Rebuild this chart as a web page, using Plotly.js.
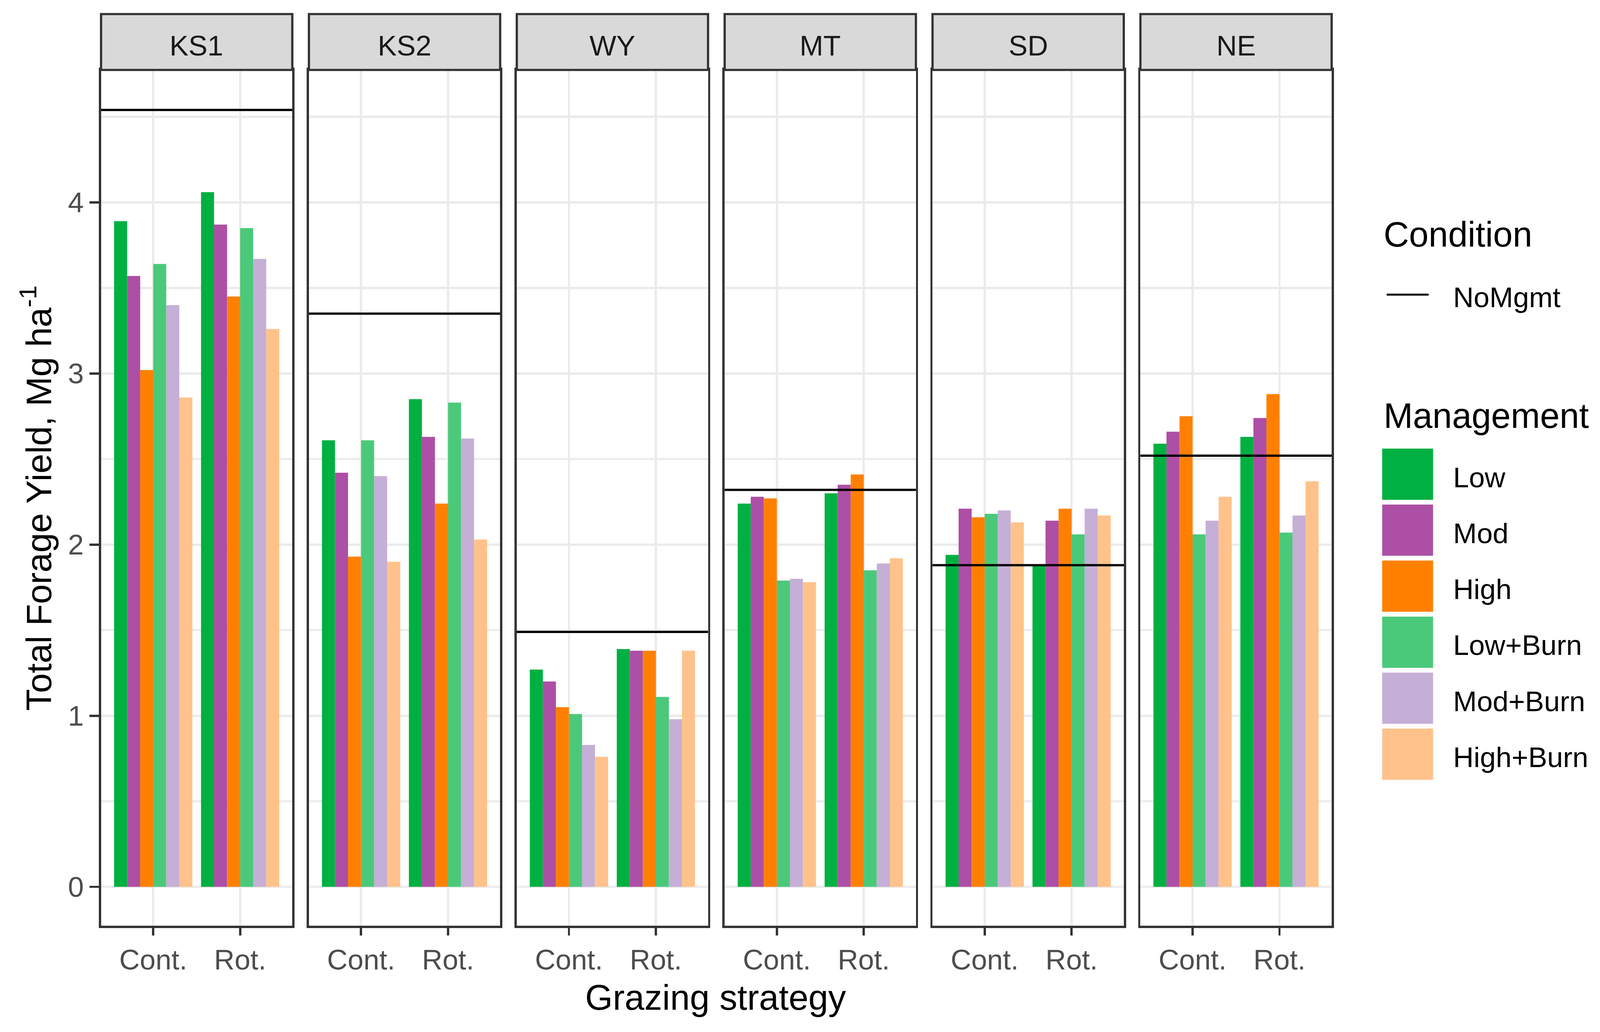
<!DOCTYPE html>
<html><head><meta charset="utf-8">
<script src="https://cdn.plot.ly/plotly-3.0.1.min.js"></script>
<style>html,body{margin:0;padding:0;background:#fff;overflow:hidden}</style>
</head><body><div id="chart"></div>
<script>
// ---- data ----
const sites = ['KS1','KS2','WY','MT','SD','NE'];
const strategies = ['Cont.','Rot.'];
const managements = ['Low','Mod','High','Low+Burn','Mod+Burn','High+Burn'];
const colors = ['#00B041','#AD4FA5','#FF8000','#4BC97A','#C5AFD6','#FFC28A'];
// yields per site, [Cont., Rot.]
const lowYield      = [[3.89,4.06],[2.61,2.85],[1.27,1.39],[2.24,2.30],[1.94,1.88],[2.59,2.63]];
const modYield      = [[3.57,3.87],[2.42,2.63],[1.20,1.38],[2.28,2.35],[2.21,2.14],[2.66,2.74]];
const highYield     = [[3.02,3.45],[1.93,2.24],[1.05,1.38],[2.27,2.41],[2.16,2.21],[2.75,2.88]];
const lowBurnYield  = [[3.64,3.85],[2.61,2.83],[1.01,1.11],[1.79,1.85],[2.18,2.06],[2.06,2.07]];
const modBurnYield  = [[3.40,3.67],[2.40,2.62],[0.83,0.98],[1.80,1.89],[2.20,2.21],[2.14,2.17]];
const highBurnYield = [[2.86,3.26],[1.90,2.03],[0.76,1.38],[1.78,1.92],[2.13,2.17],[2.28,2.37]];
const noMgmt = [4.54,3.35,1.49,2.32,1.88,2.52];
const conditionName = 'NoMgmt';

const series = [lowYield, modYield, highYield, lowBurnYield, modBurnYield, highBurnYield];

// ---- layout constants (reference frame 4275 x 2641) ----
const RW = 4275, RH = 2641;
const W = window.innerWidth || RW, H = window.innerHeight || RH;
const s = Math.min(W/RW, H/RH);
const px = v => v * s;
const fx = v => v / RW;          // paper x from reference px
const fy = v => 1 - v / RH;      // paper y from reference px
document.getElementById('chart').style.width = W + 'px';
document.getElementById('chart').style.height = H + 'px';

const FONT = 'Liberation Sans, Arial, sans-serif';
const panelLeft0 = 270, panelStep = 555.4, panelW = 511;
const plotTop = 179, plotBottom = 2369, stripTop = 36;
const yDom = [fy(plotBottom), fy(plotTop)];
const yRange = [-0.227, 4.774];
const DARK = '#333333', GRID = '#EBEBEB';

const traces = [];
const layout = {
  width: W, height: H,
  margin: {l:0, r:0, t:0, b:0},
  paper_bgcolor: '#ffffff', plot_bgcolor: '#ffffff',
  barmode: 'group', bargap: 0.1, bargroupgap: 0,
  showlegend: false,
  font: {family: FONT, color: '#1A1A1A'},
  shapes: [], annotations: []
};

sites.forEach((site, i) => {
  const suf = i === 0 ? '' : String(i+1);
  const l = panelLeft0 + i*panelStep, r = l + panelW;
  series.forEach((ser, j) => {
    traces.push({
      type: 'bar', x: strategies, y: ser[i],
      xaxis: 'x'+suf, yaxis: 'y'+suf,
      name: managements[j],
      marker: {color: colors[j], line: {width: 0}},
      hoverinfo: 'skip'
    });
  });
  layout['xaxis'+suf] = {
    domain: [fx(l), fx(r)], anchor: 'y'+suf, type: 'category',
    range: [-0.6, 1.6],
    showgrid: true, gridcolor: GRID, gridwidth: px(6),
    ticks: 'outside', ticklen: px(20), tickwidth: px(6), tickcolor: DARK,
    ticklabelstandoff: px(14),
    showline: true, mirror: true, linecolor: DARK, linewidth: px(6),
    tickfont: {family: FONT, size: px(76), color: '#4D4D4D'},
    zeroline: false, fixedrange: true
  };
  layout['yaxis'+suf] = {
    domain: yDom, anchor: 'x'+suf,
    range: yRange, tickmode: 'linear', tick0: 0, dtick: 1,
    showgrid: true, gridcolor: GRID, gridwidth: px(6),
    minor: {tick0: 0, dtick: 0.5, showgrid: true, gridcolor: GRID, gridwidth: px(5.5), ticks: ''},
    zeroline: false,
    showline: true, mirror: true, linecolor: DARK, linewidth: px(6),
    ticks: i === 0 ? 'outside' : '', ticklen: px(25), tickwidth: px(6), tickcolor: DARK,
    ticklabelstandoff: px(14),
    showticklabels: i === 0,
    tickfont: {family: FONT, size: px(76), color: '#4D4D4D'},
    fixedrange: true
  };
  // NoMgmt reference line
  layout.shapes.push({
    type: 'line', xref: 'x'+suf+' domain', x0: 0, x1: 1,
    yref: 'y'+suf, y0: noMgmt[i], y1: noMgmt[i],
    line: {color: '#000000', width: px(6)}, layer: 'above'
  });
  // strip
  layout.shapes.push({
    type: 'rect', xref: 'paper', yref: 'paper',
    x0: fx(l), x1: fx(r), y0: yDom[1], y1: fy(stripTop),
    fillcolor: '#D9D9D9', line: {color: DARK, width: px(6)}, layer: 'above'
  });
  layout.annotations.push({
    xref: 'paper', yref: 'paper', x: fx((l + r)/2), y: fy(116),
    text: site, showarrow: false, xanchor: 'center', yanchor: 'middle',
    font: {family: FONT, size: px(76), color: '#1A1A1A'}
  });
});

// axis titles
layout.annotations.push({
  xref: 'paper', yref: 'paper', x: fx(1912), y: fy(2552),
  text: 'Grazing strategy', showarrow: false, xanchor: 'center', yanchor: 'middle',
  font: {family: FONT, size: px(95), color: '#000000'}
});
layout.annotations.push({
  xref: 'paper', yref: 'paper', x: fx(96), y: fy(1274),
  text: 'Total Forage Yield, Mg ha<sup>-1</sup>', textangle: -90, showarrow: false,
  xanchor: 'center', yanchor: 'middle',
  font: {family: FONT, size: px(95), color: '#000000'}
});

// legend: Condition
const legX = 3695, labX = 3880;
layout.annotations.push({
  xref: 'paper', yref: 'paper', x: fx(legX), y: fy(600),
  text: 'Condition', showarrow: false, xanchor: 'left', yanchor: 'middle',
  font: {family: FONT, size: px(94), color: '#000000'}
});
layout.shapes.push({
  type: 'line', xref: 'paper', yref: 'paper',
  x0: fx(3705), x1: fx(3817), y0: fy(754), y1: fy(754),
  line: {color: '#000000', width: px(5)}
});
layout.annotations.push({
  xref: 'paper', yref: 'paper', x: fx(labX), y: fy(760),
  text: conditionName, showarrow: false, xanchor: 'left', yanchor: 'middle',
  font: {family: FONT, size: px(76), color: '#000000'}
});
// legend: Management
layout.annotations.push({
  xref: 'paper', yref: 'paper', x: fx(legX), y: fy(1063),
  text: 'Management', showarrow: false, xanchor: 'left', yanchor: 'middle',
  font: {family: FONT, size: px(94), color: '#000000'}
});
managements.forEach((m, j) => {
  const top = 1148 + j*143.3, bot = top + 131;
  layout.shapes.push({
    type: 'rect', xref: 'paper', yref: 'paper',
    x0: fx(3693), x1: fx(3829), y0: fy(bot), y1: fy(top),
    fillcolor: colors[j], line: {width: 0}
  });
  layout.annotations.push({
    xref: 'paper', yref: 'paper', x: fx(labX), y: fy(top + 73),
    text: m, showarrow: false, xanchor: 'left', yanchor: 'middle',
    font: {family: FONT, size: px(76), color: '#000000'}
  });
});

Plotly.newPlot('chart', traces, layout, {staticPlot: true, displayModeBar: false});
</script>
</body></html>
